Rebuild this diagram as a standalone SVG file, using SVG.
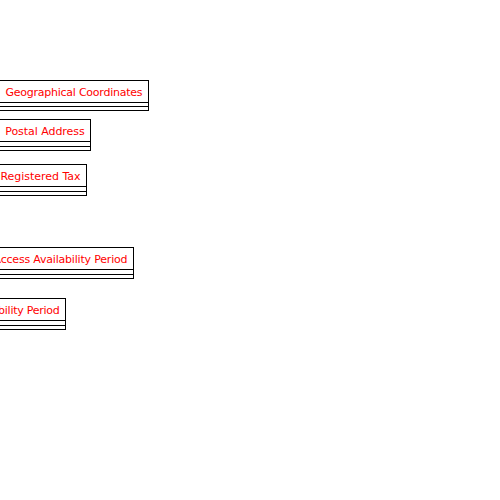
<svg xmlns="http://www.w3.org/2000/svg" width="500" height="500" viewBox="0 0 500 500">
<style>
.box{fill:#fff;stroke:#000;stroke-width:1}
.ln{stroke:#000;stroke-width:1;fill:none}
.t{font-family:"DejaVu Sans","Liberation Sans",sans-serif;font-size:11px;fill:#ff0000;text-anchor:end}
</style>
<rect width="500" height="500" fill="#fff"/>
<g id="geographical-coordinates">
<rect class="box" x="-20.5" y="80.5" width="169" height="30"/>
<path class="ln" d="M-20 102.5H148.5M-20 106.5H148.5"/>
<text class="t" x="142.5" y="95.7" textLength="137" lengthAdjust="spacing">Geographical Coordinates</text>
</g>
<g id="postal-address">
<rect class="box" x="-20.5" y="119.5" width="111" height="31"/>
<path class="ln" d="M-20 141.5H90.5M-20 146.5H90.5"/>
<text class="t" x="84.7" y="134.5" textLength="79.5" lengthAdjust="spacing">Postal Address</text>
</g>
<g id="registered-tax">
<rect class="box" x="-20.5" y="164.5" width="107" height="31"/>
<path class="ln" d="M-20 186.5H86.5M-20 191.5H86.5"/>
<text class="t" x="80.5" y="179.6" textLength="80" lengthAdjust="spacing">Registered Tax</text>
</g>
<g id="access-availability-period">
<rect class="box" x="-20.5" y="247.5" width="154" height="31"/>
<path class="ln" d="M-20 269.5H133.5M-20 274.5H133.5"/>
<text class="t" x="127.5" y="262.7" textLength="134" lengthAdjust="spacing">Access Availability Period</text>
</g>
<g id="availability-period">
<rect class="box" x="-40.5" y="298.5" width="106" height="31"/>
<path class="ln" d="M-40 320.5H65.5M-40 325.5H65.5"/>
<text class="t" x="59.7" y="313.7" textLength="93" lengthAdjust="spacing">Availability Period</text>
</g>
<g id="connectors"></g>
</svg>
